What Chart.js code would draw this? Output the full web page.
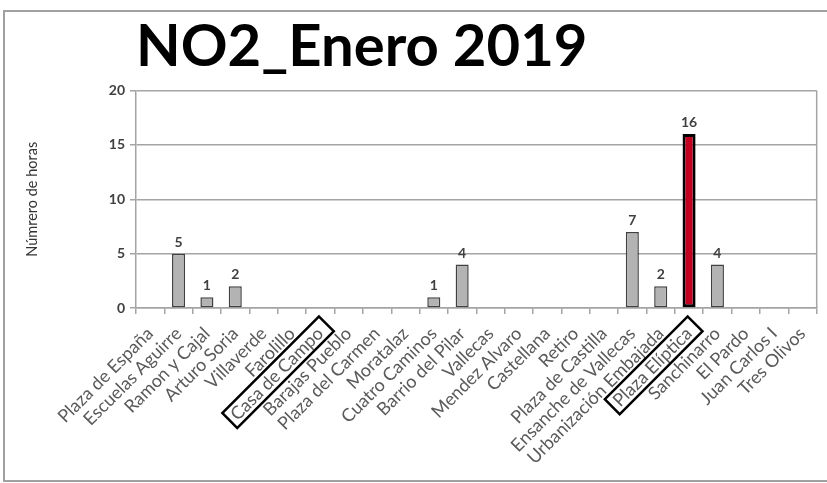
<!DOCTYPE html>
<html>
<head>
<meta charset="utf-8">
<script src="https://cdn.jsdelivr.net/npm/chart.js@4"></script>
<style>
  html, body { margin: 0; padding: 0; background: #ffffff; }
  #wrap { width: 827px; height: 483px; }
</style>
</head>
<body>
<div id="wrap"><canvas id="c" width="827" height="483"></canvas></div>
<script>
const chartTitle = 'NO2_Enero 2019';
const yAxisTitle = 'Númrero de horas';
const categories = [
  'Plaza de España', 'Escuelas Aguirre', 'Ramon y Cajal', 'Arturo Soria', 'Villaverde',
  'Farolillo', 'Casa de Campo', 'Barajas Pueblo', 'Plaza del Carmen', 'Moratalaz',
  'Cuatro Caminos', 'Barrio del Pilar', 'Vallecas', 'Mendez Alvaro', 'Castellana',
  'Retiro', 'Plaza de Castilla', 'Ensanche de Vallecas', 'Urbanización Embajada',
  'Plaza Elíptica', 'Sanchinarro', 'El Pardo', 'Juan Carlos I', 'Tres Olivos'
];
const hours = [0, 5, 1, 2, 0, 0, 0, 0, 0, 0, 1, 4, 0, 0, 0, 0, 0, 7, 2, 16, 4, 0, 0, 0];
const yTickValues = [0, 5, 10, 15, 20];
const redBarCategory = 'Plaza Elíptica';
const boxedLabels = ['Casa de Campo', 'Plaza Elíptica'];

const GRID = '#a4a4a4';

const framePlugin = {
  id: 'frame',
  beforeDraw(chart) {
    const ctx = chart.ctx;
    ctx.save();
    ctx.fillStyle = '#ffffff';
    ctx.fillRect(0, 0, chart.width, chart.height);
    ctx.strokeStyle = '#a0a0a0';
    ctx.lineWidth = 2;
    ctx.strokeRect(4, 11, chart.width + 20, 470);
    ctx.restore();
  },
  afterDraw(chart) {
    const ctx = chart.ctx;
    const a = chart.chartArea;
    ctx.save();
    ctx.strokeStyle = GRID;
    ctx.lineWidth = 1.5;
    ctx.beginPath();
    ctx.moveTo(a.right, a.top);
    ctx.lineTo(a.right, a.bottom);
    ctx.stroke();
    const xs = chart.scales.x;
    const items = xs.getLabelItems ? xs.getLabelItems() : (xs._labelItems || []);
    items.forEach((it) => {
      const lbl = Array.isArray(it.label) ? it.label.join(' ') : it.label;
      if (!boxedLabels.includes(lbl)) return;
      const o = it.options;
      ctx.save();
      ctx.translate(o.translation[0], o.translation[1]);
      ctx.rotate(o.rotation);
      ctx.font = it.font.string;
      const w = ctx.measureText(lbl).width;
      const cy = it.textOffset;
      ctx.strokeStyle = '#000000';
      ctx.lineWidth = 2.5;
      ctx.strokeRect(-w - 5, cy - 11, w + 14, 21);
      ctx.restore();
    });
    ctx.restore();
  }
};

const valueLabels = {
  id: 'valueLabels',
  afterDatasetsDraw(chart) {
    const ctx = chart.ctx;
    const meta = chart.getDatasetMeta(0);
    ctx.save();
    ctx.font = 'bold 14px Lato';
    ctx.fillStyle = '#404040';
    ctx.textAlign = 'center';
    ctx.textBaseline = 'alphabetic';
    meta.data.forEach((bar, i) => {
      const v = hours[i];
      if (!v) return;
      ctx.fillText(String(v), bar.x, bar.y - 7);
    });
    ctx.restore();
  }
};

new Chart(document.getElementById('c'), {
  type: 'bar',
  data: {
    labels: categories,
    datasets: [{
      data: hours,
      backgroundColor: (c) => categories[c.dataIndex] === redBarCategory ? '#c20020' : '#b3b3b3',
      borderColor: (c) => categories[c.dataIndex] === redBarCategory ? '#000000' : '#404040',
      borderWidth: (c) => categories[c.dataIndex] === redBarCategory ? 3 : 1.5,
      borderSkipped: false,
      categoryPercentage: 0.5,
      barPercentage: 0.92
    }]
  },
  options: {
    responsive: false,
    animation: false,
    devicePixelRatio: 1,
    layout: { padding: { left: 12, right: 6, top: 10, bottom: 3 } },
    plugins: {
      legend: { display: false },
      tooltip: { enabled: false },
      title: {
        display: true,
        text: chartTitle,
        align: 'start',
        fullSize: false,
        color: '#000000',
        font: { family: 'Lato', weight: 'bold', size: 58, lineHeight: 1.2 },
        padding: { top: 2, bottom: 9 }
      }
    },
    scales: {
      x: {
        offset: true,
        grid: {
          offset: true,
          drawOnChartArea: false,
          drawTicks: true,
          tickLength: 6,
          color: GRID,
          lineWidth: 1.5
        },
        border: { color: GRID, width: 1.5 },
        ticks: {
          autoSkip: false,
          maxRotation: 45,
          minRotation: 45,
          padding: 9,
          color: '#5a5a5a',
          font: { family: 'Lato', size: 18 }
        },
        afterFit(scale) { scale.height = 172; }
      },
      y: {
        min: 0,
        max: 20,
        afterBuildTicks(scale) { scale.ticks = yTickValues.map(v => ({ value: v })); },
        grid: {
          color: GRID,
          lineWidth: 1.5,
          drawTicks: true,
          tickLength: 6
        },
        border: { color: GRID, width: 1.5 },
        ticks: {
          padding: 5,
          color: '#404040',
          font: { family: 'Lato', weight: 'bold', size: 14 }
        },
        title: {
          display: true,
          text: yAxisTitle,
          color: '#333333',
          font: { family: 'Lato', size: 14.5 },
          padding: { top: 12, bottom: 0 }
        },
        afterFit(scale) { scale.width = 124; }
      }
    }
  },
  plugins: [framePlugin, valueLabels]
});
</script>
</body>
</html>
